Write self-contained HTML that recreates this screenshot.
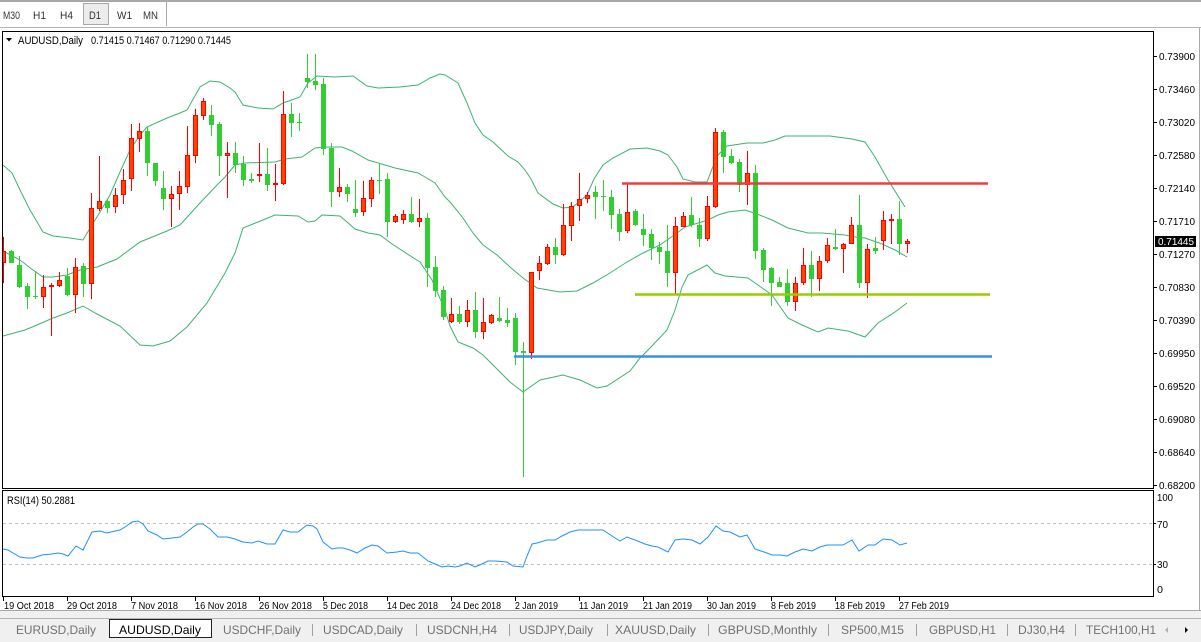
<!DOCTYPE html>
<html><head><meta charset="utf-8"><style>
html,body{margin:0;padding:0;background:#fff;}
svg{display:block;}
</style></head><body>
<svg width="1201" height="642" viewBox="0 0 1201 642" xmlns="http://www.w3.org/2000/svg" font-family="'Liberation Sans', sans-serif">
<defs><clipPath id="pc"><rect x="3" y="32" width="1150" height="456"/></clipPath>
<clipPath id="rc"><rect x="3" y="491" width="1150" height="105"/></clipPath></defs>
<rect x="0" y="0" width="1201" height="642" fill="#fff"/>
<!-- toolbar -->
<rect x="0" y="0" width="1201" height="2" fill="#a8a8a8"/>
<rect x="0" y="27" width="1201" height="1" fill="#b4b4b4"/>
<rect x="83.5" y="3.5" width="25" height="21" fill="#ececec" stroke="#a8a8a8"/>
<line x1="166.5" y1="2" x2="166.5" y2="26" stroke="#a8a8a8"/>
<g font-size="11" fill="#333">
<text x="3" y="19" textLength="17" lengthAdjust="spacingAndGlyphs">M30</text>
<text x="33" y="19" textLength="13" lengthAdjust="spacingAndGlyphs">H1</text>
<text x="60" y="19" textLength="13" lengthAdjust="spacingAndGlyphs">H4</text>
<text x="89" y="19" textLength="12" lengthAdjust="spacingAndGlyphs">D1</text>
<text x="117" y="19" textLength="15" lengthAdjust="spacingAndGlyphs">W1</text>
<text x="143" y="19" textLength="15" lengthAdjust="spacingAndGlyphs">MN</text>
</g>
<!-- window borders -->
<line x1="1199.5" y1="28" x2="1199.5" y2="611" stroke="#a8a8a8"/>
<!-- bottom tab strip -->
<rect x="0" y="611" width="1201" height="31" fill="#f0f0f0"/>
<line x1="0" y1="610.5" x2="1201" y2="610.5" stroke="#a8a8a8"/>
<line x1="0" y1="618.5" x2="1201" y2="618.5" stroke="#b4b4b4"/>
<rect x="109.5" y="619.5" width="102" height="18" fill="#fff" stroke="#222"/>
<g stroke="#a0a0a0">
<line x1="312.5" y1="624" x2="312.5" y2="636"/><line x1="416.5" y1="624" x2="416.5" y2="636"/>
<line x1="509.5" y1="624" x2="509.5" y2="636"/><line x1="607.5" y1="624" x2="607.5" y2="636"/>
<line x1="708.5" y1="624" x2="708.5" y2="636"/><line x1="828.5" y1="624" x2="828.5" y2="636"/>
<line x1="916.5" y1="624" x2="916.5" y2="636"/><line x1="1007.5" y1="624" x2="1007.5" y2="636"/>
<line x1="1075.5" y1="624" x2="1075.5" y2="636"/>
</g>
<g font-size="12" fill="#707070">
<text x="16" y="634" textLength="80" lengthAdjust="spacingAndGlyphs">EURUSD,Daily</text>
<text x="119" y="634" textLength="82" lengthAdjust="spacingAndGlyphs" fill="#000">AUDUSD,Daily</text>
<text x="223" y="634" textLength="78" lengthAdjust="spacingAndGlyphs">USDCHF,Daily</text>
<text x="323" y="634" textLength="80" lengthAdjust="spacingAndGlyphs">USDCAD,Daily</text>
<text x="427" y="634" textLength="70" lengthAdjust="spacingAndGlyphs">USDCNH,H4</text>
<text x="519" y="634" textLength="74" lengthAdjust="spacingAndGlyphs">USDJPY,Daily</text>
<text x="615" y="634" textLength="81" lengthAdjust="spacingAndGlyphs">XAUUSD,Daily</text>
<text x="718" y="634" textLength="99" lengthAdjust="spacingAndGlyphs">GBPUSD,Monthly</text>
<text x="841" y="634" textLength="63" lengthAdjust="spacingAndGlyphs">SP500,M15</text>
<text x="929" y="634" textLength="67" lengthAdjust="spacingAndGlyphs">GBPUSD,H1</text>
<text x="1018" y="634" textLength="47" lengthAdjust="spacingAndGlyphs">DJ30,H4</text>
<text x="1086" y="634" textLength="70" lengthAdjust="spacingAndGlyphs">TECH100,H1</text>
</g>
<polygon points="1168,627 1168,633 1165,630" fill="#b0b0b0"/>
<polygon points="1185,627 1185,633 1188,630" fill="#000"/>

<!-- chart frame -->
<rect x="2.5" y="31.5" width="1151" height="457" fill="#fff" stroke="#000"/>
<rect x="2.5" y="490.5" width="1151" height="106" fill="#fff" stroke="#000"/>

<g clip-path="url(#pc)">
<!-- bands -->
<g fill="none" stroke="#3cb371" stroke-width="1">
<polyline points="3,165 12,173 20,190 30,210 43,232 53,236 70,238 83,240 92,225 100,212 110,195 120,172 130,150 140,135 147,127 167,118 180,113 187,110 200,87 210,81 220,82 230,88 235,92 243,105 258,108 273,109 283,103 300,97 308,83 317,76 335,77 353,76 367,86 378,88 400,87 418,85 430,78 440,74 445,75 458,83 467,103 475,123 483,135 493,142 508,156 518,162 525,170 531,179 538,193 553,204 563,208 573,207 587,195 594,179 603,165 613,158 630,149 647,148 660,151 668,155 677,167 683,179 695,182 707,182 712,169 718,155 727,146 747,143 763,143 775,140 785,136 830,136 852,139 865,142 875,157 888,180 905,207"/>
<polyline points="3,251 20,260 33,270 43,277 53,277 67,275 80,270 97,267 117,259 140,242 167,231 180,225 200,203 217,185 225,177 235,165 245,163 275,162 285,159 302,157 315,148 325,147 342,147 352,151 368,160 385,165 395,168 418,173 425,177 435,183 445,197 450,202 455,208 463,218 473,233 483,245 497,255 510,267 523,278 537,288 560,292 577,291 593,283 610,273 627,262 643,253 660,245 677,233 685,227 708,220 718,215 728,212 745,210 757,214 772,220 788,228 808,233 822,233 845,235 855,237 865,238 882,244 895,250 907,257"/>
<polyline points="3,336 25,330 37,325 53,318 67,313 83,306 97,314 120,326 140,345 153,346 170,341 187,327 207,303 225,273 235,253 243,228 258,222 275,215 298,216 308,222 315,221 322,215 340,216 347,222 355,229 368,233 380,235 392,244 412,257 420,262 432,280 445,310 450,326 458,342 473,348 483,355 500,372 510,382 523,392 540,380 563,375 580,380 597,388 607,386 630,371 640,358 650,348 667,330 675,310 682,287 688,275 707,265 715,273 725,276 748,278 758,285 772,295 788,318 802,325 818,332 828,328 848,331 865,337 878,323 895,312 907,303"/>
</g>
<!-- wicks -->
<path fill="none" stroke="#ff0000" stroke-width="1" d="M3.5 237V283M43.5 275V308M51.5 283V336M59.5 272V287M75.5 258V313M91.5 193V299M99.5 156V211M115.5 188V213M123.5 169V204M131.5 124V191M139.5 123V152M171.5 186V227M179.5 171V210M187.5 126V193M195.5 109V163M203.5 98V120M227.5 142V198M259.5 143V182M275.5 164V201M283.5 91V185M339.5 168V197M363.5 181V216M371.5 177V207M395.5 214V223M403.5 210V224M419.5 199V227M451.5 298V323M467.5 300V327M483.5 298V339M491.5 314V324M531.5 272V359M539.5 256V280M547.5 244V265M563.5 204V256M571.5 202V241M579.5 173V221M587.5 192V203M627.5 184V233M675.5 217V295M683.5 212V227M707.5 196V241M715.5 128V208M747.5 151V205M795.5 277V311M803.5 248V285M819.5 256V291M827.5 238V263M843.5 243V273M851.5 217V244M867.5 244V298M883.5 211V250M891.5 214V244M907.5 239V253"/>
<path fill="none" stroke="#32cd32" stroke-width="1" d="M11.5 250V263M19.5 256V288M27.5 283V309M35.5 271V299M67.5 268V296M83.5 263V297M107.5 199V213M147.5 127V176M155.5 163V186M163.5 171V210M211.5 105V136M219.5 122V176M235.5 142V173M243.5 156V186M251.5 173V183M267.5 148V191M291.5 103V137M299.5 113V131M307.5 54V88M315.5 54V90M323.5 78V155M331.5 143V207M347.5 184V202M355.5 180V217M379.5 164V194M387.5 173V237M411.5 197V223M427.5 213V287M435.5 256V297M443.5 286V320M459.5 306V324M475.5 292V338M499.5 297V322M507.5 308V327M515.5 313V365M523.5 342V477M555.5 238V264M595.5 186V219M603.5 180V211M611.5 190V229M619.5 209V241M635.5 209V226M643.5 214V246M651.5 229V260M659.5 242V264M667.5 225V287M691.5 197V227M699.5 218V247M723.5 130V173M731.5 149V164M739.5 159V192M755.5 165V259M763.5 248V282M771.5 267V306M779.5 277V287M787.5 269V306M811.5 251V297M835.5 229V250M859.5 195V288M875.5 237V254M899.5 201V255"/>
<!-- green bodies -->
<g fill="#32cd32" shape-rendering="crispEdges">
<rect x="9" y="251" width="5" height="12"/><rect x="17" y="265" width="5" height="22"/><rect x="25" y="286" width="5" height="11"/><rect x="33" y="296" width="5" height="1"/><rect x="65" y="276" width="5" height="19"/><rect x="81" y="266" width="5" height="18"/><rect x="105" y="201" width="5" height="7"/><rect x="145" y="131" width="5" height="32"/><rect x="153" y="163" width="5" height="18"/><rect x="161" y="188" width="5" height="11"/><rect x="209" y="115" width="5" height="10"/><rect x="217" y="124" width="5" height="32"/><rect x="233" y="153" width="5" height="12"/><rect x="241" y="164" width="5" height="16"/><rect x="249" y="179" width="5" height="2"/><rect x="265" y="174" width="5" height="11"/><rect x="289" y="114" width="5" height="9"/><rect x="297" y="122" width="5" height="1"/><rect x="305" y="78" width="5" height="4"/><rect x="313" y="81" width="5" height="4"/><rect x="321" y="84" width="5" height="65"/><rect x="329" y="148" width="5" height="44"/><rect x="345" y="187" width="5" height="7"/><rect x="353" y="209" width="5" height="4"/><rect x="377" y="180" width="5" height="1"/><rect x="385" y="179" width="5" height="43"/><rect x="409" y="214" width="5" height="8"/><rect x="425" y="218" width="5" height="50"/><rect x="433" y="267" width="5" height="24"/><rect x="441" y="290" width="5" height="27"/><rect x="457" y="314" width="5" height="8"/><rect x="473" y="310" width="5" height="22"/><rect x="497" y="318" width="5" height="3"/><rect x="505" y="320" width="5" height="3"/><rect x="513" y="318" width="5" height="34"/><rect x="521" y="351" width="5" height="2"/><rect x="553" y="247" width="5" height="8"/><rect x="593" y="192" width="5" height="5"/><rect x="601" y="196" width="5" height="1"/><rect x="609" y="197" width="5" height="18"/><rect x="617" y="214" width="5" height="18"/><rect x="633" y="211" width="5" height="14"/><rect x="641" y="229" width="5" height="6"/><rect x="649" y="234" width="5" height="14"/><rect x="657" y="247" width="5" height="5"/><rect x="665" y="251" width="5" height="22"/><rect x="689" y="215" width="5" height="10"/><rect x="697" y="225" width="5" height="14"/><rect x="721" y="132" width="5" height="25"/><rect x="729" y="156" width="5" height="7"/><rect x="737" y="162" width="5" height="23"/><rect x="753" y="173" width="5" height="78"/><rect x="761" y="250" width="5" height="20"/><rect x="769" y="268" width="5" height="15"/><rect x="777" y="282" width="5" height="5"/><rect x="785" y="283" width="5" height="19"/><rect x="809" y="265" width="5" height="14"/><rect x="833" y="247" width="5" height="2"/><rect x="857" y="225" width="5" height="58"/><rect x="873" y="248" width="5" height="3"/><rect x="897" y="219" width="5" height="25"/>
</g>
<!-- red bodies -->
<g fill="#ff4500" stroke="#ff0000" stroke-width="1" shape-rendering="crispEdges">
<rect x="1.5" y="251.5" width="4" height="11"/><rect x="41.5" y="287.5" width="4" height="9"/><rect x="49.5" y="285.5" width="4" height="1"/><rect x="57.5" y="280.5" width="4" height="5"/><rect x="73.5" y="267.5" width="4" height="27"/><rect x="89.5" y="208.5" width="4" height="75"/><rect x="97.5" y="201.5" width="4" height="7"/><rect x="113.5" y="195.5" width="4" height="11"/><rect x="121.5" y="180.5" width="4" height="14"/><rect x="129.5" y="138.5" width="4" height="40"/><rect x="137.5" y="131.5" width="4" height="7"/><rect x="169.5" y="194.5" width="4" height="4"/><rect x="177.5" y="186.5" width="4" height="7"/><rect x="185.5" y="155.5" width="4" height="31"/><rect x="193.5" y="115.5" width="4" height="40"/><rect x="201.5" y="101.5" width="4" height="14"/><rect x="225.5" y="153.5" width="4" height="2"/><rect x="257.5" y="174.5" width="4" height="1"/><rect x="273.5" y="183.5" width="4" height="1"/><rect x="281.5" y="114.5" width="4" height="69"/><rect x="337.5" y="187.5" width="4" height="4"/><rect x="361.5" y="198.5" width="4" height="13"/><rect x="369.5" y="180.5" width="4" height="18"/><rect x="393.5" y="216.5" width="4" height="5"/><rect x="401.5" y="214.5" width="4" height="5"/><rect x="417.5" y="218.5" width="4" height="3"/><rect x="449.5" y="314.5" width="4" height="7"/><rect x="465.5" y="310.5" width="4" height="11"/><rect x="481.5" y="322.5" width="4" height="9"/><rect x="489.5" y="315.5" width="4" height="7"/><rect x="529.5" y="272.5" width="4" height="80"/><rect x="537.5" y="263.5" width="4" height="7"/><rect x="545.5" y="247.5" width="4" height="16"/><rect x="561.5" y="225.5" width="4" height="29"/><rect x="569.5" y="206.5" width="4" height="19"/><rect x="577.5" y="199.5" width="4" height="6"/><rect x="585.5" y="195.5" width="4" height="3"/><rect x="625.5" y="212.5" width="4" height="18"/><rect x="673.5" y="226.5" width="4" height="46"/><rect x="681.5" y="216.5" width="4" height="10"/><rect x="705.5" y="206.5" width="4" height="32"/><rect x="713.5" y="132.5" width="4" height="74"/><rect x="745.5" y="173.5" width="4" height="11"/><rect x="793.5" y="283.5" width="4" height="18"/><rect x="801.5" y="265.5" width="4" height="17"/><rect x="817.5" y="261.5" width="4" height="17"/><rect x="825.5" y="245.5" width="4" height="15"/><rect x="841.5" y="244.5" width="4" height="4"/><rect x="849.5" y="225.5" width="4" height="18"/><rect x="865.5" y="249.5" width="4" height="33"/><rect x="881.5" y="220.5" width="4" height="20"/><rect x="889.5" y="219.5" width="4" height="1"/><rect x="905.5" y="241.5" width="4" height="2"/>
</g>
<!-- level lines -->
<line x1="622" y1="183.5" x2="988" y2="183.5" stroke="#f03c3c" stroke-width="2.5"/>
<line x1="635" y1="294.5" x2="990" y2="294.5" stroke="#99cc00" stroke-width="2.5"/>
<line x1="514" y1="356.5" x2="992" y2="356.5" stroke="#3c8fe0" stroke-width="2.5"/>
</g>

<!-- header -->
<polygon points="6,38 12,38 9,41.5" fill="#000"/>
<text x="18" y="44" font-size="11" fill="#000" textLength="65" lengthAdjust="spacingAndGlyphs">AUDUSD,Daily</text>
<text x="91" y="44" font-size="11" fill="#000" textLength="140" lengthAdjust="spacingAndGlyphs">0.71415 0.71467 0.71290 0.71445</text>

<!-- price axis -->
<g stroke="#000" shape-rendering="crispEdges">
<line x1="1153" y1="56.5" x2="1157" y2="56.5"/><line x1="1153" y1="89.5" x2="1157" y2="89.5"/>
<line x1="1153" y1="122.5" x2="1157" y2="122.5"/><line x1="1153" y1="155.5" x2="1157" y2="155.5"/>
<line x1="1153" y1="188.5" x2="1157" y2="188.5"/><line x1="1153" y1="221.5" x2="1157" y2="221.5"/>
<line x1="1153" y1="254.5" x2="1157" y2="254.5"/><line x1="1153" y1="287.5" x2="1157" y2="287.5"/>
<line x1="1153" y1="320.5" x2="1157" y2="320.5"/><line x1="1153" y1="353.5" x2="1157" y2="353.5"/>
<line x1="1153" y1="386.5" x2="1157" y2="386.5"/><line x1="1153" y1="419.5" x2="1157" y2="419.5"/>
<line x1="1153" y1="452.5" x2="1157" y2="452.5"/><line x1="1153" y1="485.5" x2="1157" y2="485.5"/>
<line x1="1153" y1="523.5" x2="1156" y2="523.5"/><line x1="1153" y1="564.5" x2="1156" y2="564.5"/>
</g>
<g font-size="10" fill="#000">
<text x="1159" y="60" textLength="36" lengthAdjust="spacingAndGlyphs">0.73900</text>
<text x="1159" y="93" textLength="36" lengthAdjust="spacingAndGlyphs">0.73460</text>
<text x="1159" y="126" textLength="36" lengthAdjust="spacingAndGlyphs">0.73020</text>
<text x="1159" y="159" textLength="36" lengthAdjust="spacingAndGlyphs">0.72580</text>
<text x="1159" y="192" textLength="36" lengthAdjust="spacingAndGlyphs">0.72140</text>
<text x="1159" y="225" textLength="36" lengthAdjust="spacingAndGlyphs">0.71710</text>
<text x="1159" y="258" textLength="36" lengthAdjust="spacingAndGlyphs">0.71270</text>
<text x="1159" y="291" textLength="36" lengthAdjust="spacingAndGlyphs">0.70830</text>
<text x="1159" y="324" textLength="36" lengthAdjust="spacingAndGlyphs">0.70390</text>
<text x="1159" y="357" textLength="36" lengthAdjust="spacingAndGlyphs">0.69950</text>
<text x="1159" y="390" textLength="36" lengthAdjust="spacingAndGlyphs">0.69520</text>
<text x="1159" y="423" textLength="36" lengthAdjust="spacingAndGlyphs">0.69080</text>
<text x="1159" y="456" textLength="36" lengthAdjust="spacingAndGlyphs">0.68640</text>
<text x="1159" y="489" textLength="36" lengthAdjust="spacingAndGlyphs">0.68200</text>
<text x="1157" y="501" textLength="16" lengthAdjust="spacingAndGlyphs">100</text>
<text x="1157" y="528" textLength="11" lengthAdjust="spacingAndGlyphs">70</text>
<text x="1157" y="568" textLength="11" lengthAdjust="spacingAndGlyphs">30</text>
<text x="1157" y="593" textLength="6" lengthAdjust="spacingAndGlyphs">0</text>
</g>
<rect x="1155" y="236" width="41" height="11" fill="#000"/>
<text x="1158" y="245" font-size="10" fill="#fff" textLength="36" lengthAdjust="spacingAndGlyphs">0.71445</text>

<!-- RSI -->
<g clip-path="url(#rc)">
<line x1="3" y1="523.5" x2="1153" y2="523.5" stroke="#c0c0c0" stroke-dasharray="3,3"/>
<line x1="3" y1="564.5" x2="1153" y2="564.5" stroke="#c0c0c0" stroke-dasharray="3,3"/>
<polyline fill="none" stroke="#1e90ff" stroke-width="1" points="3,549 8,550 13,553 20,557 27,558 33,558 42,555 52,554 58,553 63,554 68,556 76,546 83,550 92,532 100,531 107,533 115,531 120,530 125,527 132,522 138,521 143,524 148,531 157,535 163,539 172,538 180,537 187,532 193,527 198,524 203,524 210,529 218,537 227,537 235,539 243,542 252,543 258,541 267,544 275,544 283,530 290,532 298,532 307,525 313,526 317,529 323,542 332,549 337,548 343,548 350,550 357,553 365,548 372,545 378,546 387,553 397,552 403,551 410,553 418,553 428,561 435,564 442,567 448,566 455,567 460,566 467,563 475,567 482,564 488,561 495,561 507,562 513,566 523,567 527,556 532,544 537,543 547,540 555,540 562,536 570,532 578,530 603,530 612,536 620,541 627,537 635,540 645,544 652,546 658,547 668,552 675,540 683,539 692,540 700,544 708,537 716,526 723,531 730,532 740,537 747,535 755,549 767,553 772,555 780,555 787,556 795,552 803,549 812,551 820,547 827,545 843,545 852,540 859,551 868,545 875,545 883,539 892,540 900,545 907,543"/>
</g>
<text x="7" y="504" font-size="11" fill="#000" textLength="68" lengthAdjust="spacingAndGlyphs">RSI(14) 50.2881</text>

<!-- date axis -->
<g stroke="#000" shape-rendering="crispEdges">
<line x1="3.5" y1="597" x2="3.5" y2="601"/><line x1="67.5" y1="597" x2="67.5" y2="601"/><line x1="131.5" y1="597" x2="131.5" y2="601"/><line x1="195.5" y1="597" x2="195.5" y2="601"/><line x1="259.5" y1="597" x2="259.5" y2="601"/><line x1="323.5" y1="597" x2="323.5" y2="601"/><line x1="387.5" y1="597" x2="387.5" y2="601"/><line x1="451.5" y1="597" x2="451.5" y2="601"/><line x1="515.5" y1="597" x2="515.5" y2="601"/><line x1="579.5" y1="597" x2="579.5" y2="601"/><line x1="643.5" y1="597" x2="643.5" y2="601"/><line x1="707.5" y1="597" x2="707.5" y2="601"/><line x1="771.5" y1="597" x2="771.5" y2="601"/><line x1="835.5" y1="597" x2="835.5" y2="601"/><line x1="899.5" y1="597" x2="899.5" y2="601"/>
</g>
<g font-size="10" fill="#000">
<text x="4" y="609" textLength="50" lengthAdjust="spacingAndGlyphs">19 Oct 2018</text>
<text x="67" y="609" textLength="50" lengthAdjust="spacingAndGlyphs">29 Oct 2018</text>
<text x="131" y="609" textLength="47" lengthAdjust="spacingAndGlyphs">7 Nov 2018</text>
<text x="195" y="609" textLength="52" lengthAdjust="spacingAndGlyphs">16 Nov 2018</text>
<text x="259" y="609" textLength="53" lengthAdjust="spacingAndGlyphs">26 Nov 2018</text>
<text x="323" y="609" textLength="45" lengthAdjust="spacingAndGlyphs">5 Dec 2018</text>
<text x="387" y="609" textLength="51" lengthAdjust="spacingAndGlyphs">14 Dec 2018</text>
<text x="451" y="609" textLength="50" lengthAdjust="spacingAndGlyphs">24 Dec 2018</text>
<text x="515" y="609" textLength="43" lengthAdjust="spacingAndGlyphs">2 Jan 2019</text>
<text x="579" y="609" textLength="49" lengthAdjust="spacingAndGlyphs">11 Jan 2019</text>
<text x="643" y="609" textLength="49" lengthAdjust="spacingAndGlyphs">21 Jan 2019</text>
<text x="707" y="609" textLength="49" lengthAdjust="spacingAndGlyphs">30 Jan 2019</text>
<text x="771" y="609" textLength="45" lengthAdjust="spacingAndGlyphs">8 Feb 2019</text>
<text x="835" y="609" textLength="50" lengthAdjust="spacingAndGlyphs">18 Feb 2019</text>
<text x="899" y="609" textLength="50" lengthAdjust="spacingAndGlyphs">27 Feb 2019</text>
</g>
</svg>
</body></html>
